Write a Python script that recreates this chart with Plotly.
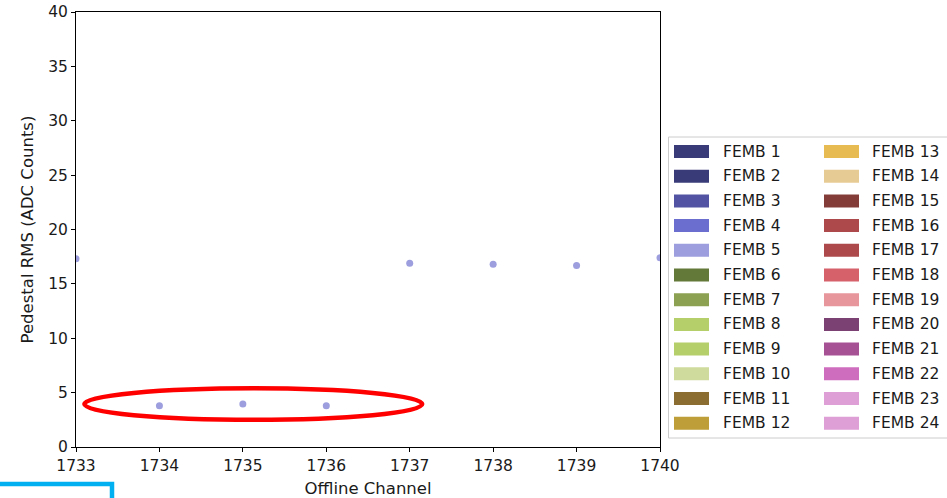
import plotly.graph_objects as go

# Data
channels = [1733, 1734, 1735, 1736, 1737, 1738, 1739, 1740]
ped_rms = [17.3, 3.8, 3.95, 3.8, 16.9, 16.8, 16.7, 17.4]

femb_names = [f"FEMB {i}" for i in range(1, 25)]
femb_colors = [
    "#393b79", "#393b79", "#5254a3", "#6b6ecf", "#9c9ede",
    "#637939", "#8ca252", "#b5cf6b", "#b5cf6b", "#cedb9c",
    "#8c6d31", "#bd9e39", "#e7ba52", "#e7cb94", "#843c39",
    "#ad494a", "#ad494a", "#d6616b", "#e7969c", "#7b4173",
    "#a55194", "#ce6dbd", "#de9ed6", "#de9ed6",
]
y_ticks = [0, 5, 10, 15, 20, 25, 30, 35, 40]
x_ticks = [1733, 1734, 1735, 1736, 1737, 1738, 1739, 1740]

W, H = 947, 498
L, R, T, B = 76, 660, 12, 447  # plot area in pixels

def px(xp):
    return (xp - L) / (R - L)

def py(yp):
    return (B - yp) / (B - T)

FONT = "DejaVu Sans"
FS = 15.5
FT = 16.5

fig = go.Figure()
fig.add_trace(go.Scatter(
    x=channels, y=ped_rms, mode="markers",
    marker=dict(color="#9c9ede", size=7),
    cliponaxis=True, showlegend=False, hoverinfo="x+y",
))

shapes = []
annotations = []

# Red ellipse highlight
shapes.append(dict(type="circle", xref="x", yref="y",
                   x0=1733.1, x1=1737.15, y0=2.5, y1=5.4,
                   line=dict(color="#ff0000", width=4.5), layer="above"))

# Cyan partial box at bottom-left
shapes.append(dict(type="rect", xref="paper", yref="paper",
                   x0=px(-20), x1=px(112), y0=py(484), y1=py(540),
                   line=dict(color="#00b0f0", width=4.5), layer="above"))

# Legend box
shapes.append(dict(type="rect", xref="paper", yref="paper",
                   x0=px(668.5), x1=px(990), y0=py(438), y1=py(137),
                   line=dict(color="#cccccc", width=1), fillcolor="white", layer="above"))

row0 = 151.5
step = 24.7
for i, (name, col) in enumerate(zip(femb_names, femb_colors)):
    c = i // 12
    r = i % 12
    yc = row0 + r * step
    xp0 = 674 if c == 0 else 824
    xt = 721 if c == 0 else 870
    shapes.append(dict(type="rect", xref="paper", yref="paper",
                       x0=px(xp0), x1=px(xp0 + 35), y0=py(yc + 6.5), y1=py(yc - 6.5),
                       line=dict(width=0), fillcolor=col, layer="above"))
    annotations.append(dict(xref="paper", yref="paper", x=px(xt), y=py(yc),
                            text=name, showarrow=False, xanchor="left", yanchor="middle",
                            font=dict(family=FONT, size=FS, color="#1a1a1a")))

fig.update_layout(
    width=W, height=H,
    margin=dict(l=L, r=W - R, t=T, b=H - B, pad=0, autoexpand=False),
    paper_bgcolor="white", plot_bgcolor="white",
    font=dict(family=FONT, size=FS, color="#1a1a1a"),
    shapes=shapes, annotations=annotations,
    xaxis=dict(range=[1733, 1740], tickvals=x_ticks, ticktext=[str(v) for v in x_ticks],
               showgrid=False, zeroline=False, showline=True, linecolor="black", linewidth=1,
               mirror=True, ticks="outside", ticklen=4, tickcolor="black", automargin=False,
               title=dict(text="Offline Channel", standoff=8, font=dict(size=FT))),
    yaxis=dict(range=[0, 40], tickvals=y_ticks, ticktext=[str(v) for v in y_ticks],
               showgrid=False, zeroline=False, showline=True, linecolor="black", linewidth=1,
               mirror=True, ticks="outside", ticklen=4, tickcolor="black", automargin=False,
               title=dict(text="Pedestal RMS (ADC Counts)", standoff=10, font=dict(size=FT))),
    showlegend=False,
)

fig.write_html("out.html", config={"displayModeBar": False},
               post_script="document.body.style.margin='0px';")
